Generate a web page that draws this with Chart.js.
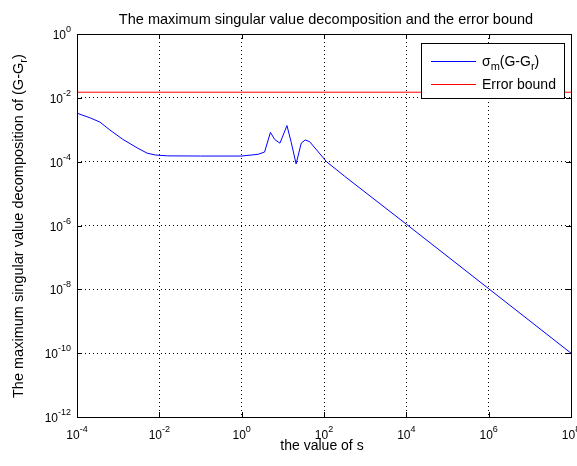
<!DOCTYPE html>
<html><head><meta charset="utf-8">
<script src="https://cdn.jsdelivr.net/npm/chart.js@4"></script>
<style>html,body{margin:0;padding:0;background:#fff}#wrap{width:577px;height:466px}</style>
</head><body><div id="wrap"><canvas id="c" width="577" height="466"></canvas></div>
<script>
const titleText = 'The maximum singular value decomposition and the error bound';
const xAxisTitle = 'the value of s';
const yAxisTitleParts = ['The maximum singular value decomposition of (G-G', 'r', ')'];
const legendLabels = [['\u03C3', 'm', '(G-G', 'r', ')'], ['Error bound']];
const seriesColors = ['#0000ff', '#ff0000'];

const sValues = [1e-4, 2.1e-4, 3.6e-4, 6.3e-4, 1.3e-3, 2.9e-3, 5e-3, 7.9e-3, 1.6e-2, 1e-1, 1,
  2.5, 3.6, 5, 6.3, 8.5, 12.6, 16, 21, 28, 35, 45, 115, 316, 1e4, 1e6, 1e8];
const sigmaValues = [3.3e-3, 2.35e-3, 1.74e-3, 9.8e-4, 5.0e-4, 2.7e-4, 1.86e-4, 1.62e-4, 1.52e-4, 1.5e-4, 1.5e-4,
  1.7e-4, 2.0e-4, 8.3e-4, 5.0e-4, 3.8e-4, 1.35e-3, 4.0e-4, 8.5e-5, 3.8e-4, 4.8e-4, 4.2e-4, 1.0e-4, 3.5e-5, 1.1e-6, 1.05e-8, 1.0e-10];
const boundS = [1e-4, 1e8];
const boundValues = [0.015, 0.015];
const xTickExponents = [-4, -2, 0, 2, 4, 6, 8];
const yTickExponents = [0, -2, -4, -6, -8, -10, -12];

const FONT = '"Liberation Sans", Arial, sans-serif';

function drawRich(ctx, parts, x, y, align) {
  let w = 0;
  parts.forEach(p => { ctx.font = p.font; p.w = ctx.measureText(p.text).width; w += p.w; });
  let cx = align === 'center' ? x - w / 2 : (align === 'right' ? x - w : x);
  ctx.textAlign = 'left';
  ctx.textBaseline = 'alphabetic';
  parts.forEach(p => { ctx.font = p.font; ctx.fillText(p.text, cx, y + (p.dy || 0)); cx += p.w; });
  return w;
}

const decor = {
  id: 'decor',
  afterDraw(chart) {
    const ctx = chart.ctx;
    const a = chart.chartArea;
    const xs = chart.scales.x, ys = chart.scales.y;
    ctx.save();
    ctx.fillStyle = '#000';
    ctx.strokeStyle = '#000';
    ctx.lineWidth = 1;
    ctx.setLineDash([]);
    // box
    ctx.strokeRect(Math.round(a.left) + 0.5, Math.round(a.top) + 0.5, Math.round(a.right - a.left), Math.round(a.bottom - a.top));
    // inner ticks
    ctx.beginPath();
    xTickExponents.forEach(e => {
      const px = Math.round(xs.getPixelForValue(Math.pow(10, e))) + 0.5;
      ctx.moveTo(px, a.bottom); ctx.lineTo(px, a.bottom - 5);
      ctx.moveTo(px, a.top); ctx.lineTo(px, a.top + 5);
    });
    yTickExponents.forEach(e => {
      const py = Math.round(ys.getPixelForValue(Math.pow(10, e))) + 0.5;
      ctx.moveTo(a.left, py); ctx.lineTo(a.left + 5, py);
      ctx.moveTo(a.right, py); ctx.lineTo(a.right - 5, py);
    });
    ctx.stroke();
    // tick labels
    xTickExponents.forEach(e => {
      const px = xs.getPixelForValue(Math.pow(10, e));
      drawRich(ctx, [
        {text: '10', font: '12px ' + FONT},
        {text: String(e), font: '9px ' + FONT, dy: -7}
      ], px, a.bottom + 22, 'center');
    });
    yTickExponents.forEach(e => {
      const py = ys.getPixelForValue(Math.pow(10, e));
      drawRich(ctx, [
        {text: '10', font: '12px ' + FONT},
        {text: String(e), font: '9px ' + FONT, dy: -7}
      ], a.left - 6, py + 5, 'right');
    });
    // title
    drawRich(ctx, [{text: titleText, font: '14.5px ' + FONT}], (a.left + a.right) / 2 + 2, 24, 'center');
    // x title
    drawRich(ctx, [{text: xAxisTitle, font: '14px ' + FONT}], (a.left + a.right) / 2 - 2, 450, 'center');
    // y title
    ctx.save();
    ctx.translate(23, 398);
    ctx.rotate(-Math.PI / 2);
    drawRich(ctx, [
      {text: yAxisTitleParts[0], font: '14.5px ' + FONT},
      {text: yAxisTitleParts[1], font: '11px ' + FONT, dy: 4},
      {text: yAxisTitleParts[2], font: '14.5px ' + FONT}
    ], 0, 0, 'left');
    ctx.restore();
    // legend
    const lx = 421.5, ly = 43.5, lw = 143, lh = 55;
    ctx.fillStyle = '#fff';
    ctx.fillRect(lx, ly, lw, lh);
    ctx.strokeStyle = '#000';
    ctx.strokeRect(lx, ly, lw, lh);
    const rows = [61.5, 84.5];
    rows.forEach((ry, i) => {
      ctx.strokeStyle = seriesColors[i];
      ctx.beginPath(); ctx.moveTo(431, ry); ctx.lineTo(476, ry); ctx.stroke();
    });
    ctx.fillStyle = '#000';
    const L0 = legendLabels[0];
    drawRich(ctx, [
      {text: L0[0], font: '14px ' + FONT},
      {text: L0[1], font: '11px ' + FONT, dy: 4},
      {text: L0[2], font: '14px ' + FONT},
      {text: L0[3], font: '11px ' + FONT, dy: 4},
      {text: L0[4], font: '14px ' + FONT}
    ], 482, 66, 'left');
    drawRich(ctx, [{text: legendLabels[1][0], font: '14px ' + FONT}], 482, 89, 'left');
    ctx.restore();
  }
};

new Chart(document.getElementById('c'), {
  type: 'line',
  data: {
    datasets: [
      {label: 'sigma', data: sValues.map((s, i) => ({x: s, y: sigmaValues[i]})), borderColor: seriesColors[0], borderWidth: 1, pointRadius: 0, tension: 0, fill: false},
      {label: 'Error bound', data: boundS.map((s, i) => ({x: s, y: boundValues[i]})), borderColor: seriesColors[1], borderWidth: 1, pointRadius: 0, tension: 0, fill: false}
    ]
  },
  options: {
    responsive: false,
    animation: false,
    devicePixelRatio: 1,
    layout: {padding: {left: 0, top: 34, right: 6, bottom: 0}},
    plugins: {legend: {display: false}, title: {display: false}, tooltip: {enabled: false}},
    scales: {
      x: {
        type: 'logarithmic', min: 1e-4, max: 1e8,
        afterBuildTicks: s => { s.ticks = xTickExponents.map(e => ({value: Math.pow(10, e)})); },
        afterFit: s => { s.height = 49; },
        ticks: {display: false},
        grid: {color: '#000', lineWidth: 1, drawTicks: false},
        border: {display: false, dash: [1, 3]}
      },
      y: {
        type: 'logarithmic', min: 1e-12, max: 1,
        afterBuildTicks: s => { s.ticks = yTickExponents.map(e => ({value: Math.pow(10, e)})); },
        afterFit: s => { s.width = 77; },
        ticks: {display: false},
        grid: {color: '#000', lineWidth: 1, drawTicks: false},
        border: {display: false, dash: [1, 3]}
      }
    }
  },
  plugins: [decor]
});
</script>
</body></html>
